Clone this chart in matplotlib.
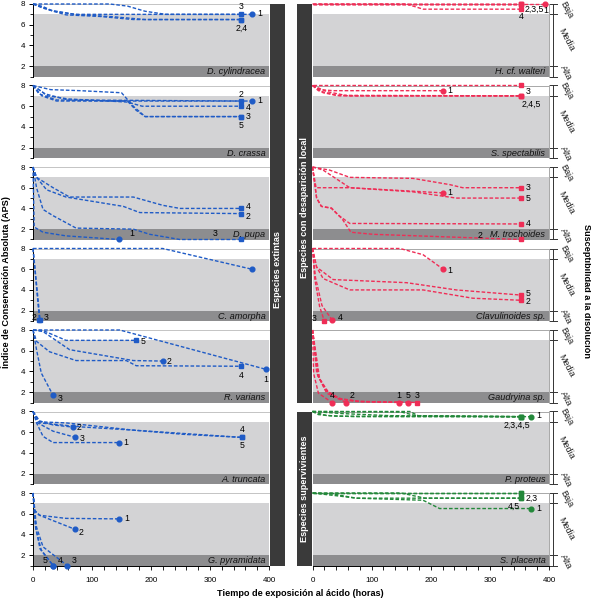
import matplotlib.pyplot as plt
from matplotlib.patches import Rectangle
from matplotlib.ticker import MultipleLocator
from matplotlib.transforms import blended_transform_factory

plt.rcParams['font.family'] = ['Liberation Sans', 'DejaVu Sans']

# ---------------- data: (hours, APS) per specimen ----------------
# extinct species
dcyl = {
    '1': ([0, 130, 160, 190, 225, 372], [8, 8, 7.8, 7.3, 7.0, 7.0]),
    '3': ([0, 17, 34, 73, 353], [8, 7.75, 7.3, 7.0, 7.0]),
    '2': ([0, 17, 56, 113, 170, 353], [8, 7.6, 6.95, 6.8, 6.5, 6.5]),
    '4': ([0, 30, 70, 140, 190, 353], [8, 7.4, 7.0, 6.75, 6.5, 6.5]),
}
dcyl_mk = {'1': 'o', '2': 's', '3': 's', '4': 's'}

dcra = {
    '1': ([0, 15, 40, 372], [8, 7.0, 6.5, 6.5]),
    '2': ([0, 20, 60, 353], [8, 7.2, 6.6, 6.5]),
    '3': ([0, 30, 80, 150, 170, 190, 353], [8, 7.6, 7.5, 7.3, 6.0, 5.0, 5.0]),
    '4': ([0, 25, 60, 160, 185, 353], [8, 7.0, 6.7, 6.4, 6.0, 6.0]),
    '5': ([0, 10, 40, 160, 175, 190, 353], [8, 7.2, 6.6, 6.5, 5.6, 5.0, 5.0]),
}
dcra_mk = {'1': 'o', '2': 's', '3': 's', '4': 's', '5': 's'}

dpup = {
    '1': ([0, 2, 17, 56, 146], [8, 2.2, 1.7, 1.35, 1.0]),
    '2': ([0, 6, 23, 56, 153, 181, 353], [8, 7.0, 5.8, 5.1, 4.2, 3.6, 3.5]),
    '3': ([0, 6, 17, 34, 73, 170, 198, 249, 353], [8, 6.0, 3.9, 3.3, 2.1, 2.0, 1.5, 1.0, 1.0]),
    '4': ([0, 6, 34, 62, 170, 220, 249, 353], [8, 7.0, 6.0, 5.1, 5.1, 4.3, 4.0, 4.0]),
}
dpup_mk = {'1': 'o', '2': 's', '3': 's', '4': 's'}

camo = {
    '1': ([0, 220, 371], [8, 8, 6.0]),
    '2': ([0, 11], [8, 1.1]),
    '3': ([0, 12], [8, 1.1]),
}
camo_mk = {'1': 'o', '2': 's', '3': 's'}

rvar = {
    '1': ([0, 147, 395], [8, 8, 4.2]),
    '2': ([0, 17, 62, 170, 220], [8, 7.85, 6.1, 5.05, 5.0]),
    '3': ([0, 6, 14, 34], [8, 6.1, 3.85, 1.7]),
    '4': ([0, 6, 28, 73, 158, 175, 353], [8, 6.9, 5.9, 5.05, 5.05, 4.55, 4.5]),
    '5': ([0, 17, 56, 175], [8, 7.95, 7.0, 7.0]),
}
rvar_mk = {'1': 'o', '2': 'o', '3': 'o', '4': 's', '5': 's'}

atru = {
    '1': ([0, 6, 17, 34, 146], [8, 6.9, 5.6, 5.0, 5.0]),
    '2': ([0, 11, 34, 67], [8, 7.1, 6.7, 6.5]),
    '3': ([0, 8, 34, 72], [8, 6.9, 6.1, 5.5]),
    '4': ([0, 11, 56, 170, 354], [8, 7.0, 6.9, 6.2, 5.5]),
    '5': ([0, 11, 85, 170, 254, 354], [8, 6.9, 6.5, 6.2, 5.8, 5.5]),
}
atru_mk = {'1': 'o', '2': 'o', '3': 'o', '4': 's', '5': 's'}

gpyr = {
    '1': ([0, 3, 11, 56, 146], [8, 6.3, 5.85, 5.55, 5.5]),
    '2': ([0, 3, 11, 71], [8, 6.3, 5.85, 4.5]),
    '3': ([0, 6, 17, 58], [8, 4.7, 2.8, 1.0]),
    '4': ([0, 5, 14, 34], [8, 4.5, 2.5, 1.0]),
    '5': ([0, 4, 12, 34], [8, 4.8, 2.6, 1.0]),
}
gpyr_mk = {'1': 'o', '2': 'o', '3': 'o', '4': 'o', '5': 'o'}

# local disappearance
hwal = {
    '1': ([0, 394], [8, 8]),
    '2': ([0, 353], [8, 8]),
    '3': ([0, 353], [8, 8]),
    '5': ([0, 353], [8, 8]),
    '4': ([0, 159, 187, 353], [8, 8, 7.5, 7.5]),
}
hwal_mk = {'1': 'o', '2': 's', '3': 's', '4': 's', '5': 's'}

sspe = {
    '1': ([0, 12, 35, 221], [8, 7.6, 7.5, 7.5]),
    '2': ([0, 18, 46, 353], [8, 7.3, 7.0, 7.0]),
    '3': ([0, 353], [8, 8]),
    '4': ([0, 10, 40, 353], [8, 7.5, 7.05, 7.0]),
    '5': ([0, 25, 60, 353], [8, 7.4, 7.0, 7.0]),
}
sspe_mk = {'1': 'o', '2': 's', '3': 's', '4': 's', '5': 's'}

mtro = {
    '1': ([0, 6, 63, 221], [8, 6.0, 6.0, 5.5]),
    '2': ([0, 7, 15, 32, 50, 65, 103, 353], [8, 5.0, 4.2, 4.0, 3.0, 1.7, 1.5, 1.0]),
    '3': ([0, 29, 63, 170, 232, 254, 353], [8, 7.7, 7.0, 6.9, 6.3, 6.0, 6.0]),
    '4': ([0, 7, 15, 32, 45, 63, 353], [8, 5.0, 4.2, 4.05, 3.3, 2.55, 2.5]),
    '5': ([0, 18, 63, 170, 243, 353], [8, 7.7, 6.0, 5.6, 5.0, 5.0]),
}
mtro_mk = {'1': 'o', '2': 's', '3': 's', '4': 's', '5': 's'}

clav = {
    '1': ([0, 148, 187, 221], [8, 8, 7.4, 6.0]),
    '2': ([0, 7, 18, 63, 187, 271, 353], [8, 6.2, 5.1, 4.0, 4.0, 3.2, 3.0]),
    '3': ([0, 4, 12, 20], [8, 5.0, 2.4, 1.0]),
    '4': ([0, 5, 16, 33], [8, 5.2, 2.5, 1.1]),
    '5': ([0, 7, 35, 159, 243, 353], [8, 6.2, 5.0, 4.7, 4.0, 3.5]),
}
clav_mk = {'1': 'o', '2': 's', '3': 's', '4': 'o', '5': 's'}

gaud = {
    '1': ([0, 10, 24, 46, 74, 146], [8, 3.5, 2.1, 1.35, 1.1, 1.0]),
    '2': ([0, 7, 24, 57], [8, 3.85, 1.9, 1.0]),
    '3': ([0, 12, 28, 50, 80, 177], [8, 3.3, 1.9, 1.3, 1.1, 1.0]),
    '4': ([0, 2, 10, 33], [8, 3.8, 1.9, 1.0]),
    '5': ([0, 9, 22, 45, 80, 162], [8, 3.6, 2.2, 1.4, 1.1, 1.0]),
}
gaud_mk = {'1': 'o', '2': 'o', '3': 's', '4': 'o', '5': 'o'}

# survivors
ppro = {
    '1': ([0, 165, 180, 370], [8, 8, 7.55, 7.5]),
    '2': ([0, 24, 74, 353], [8, 7.6, 7.5, 7.5]),
    '3': ([0, 10, 40, 353], [8, 7.7, 7.55, 7.5]),
    '4': ([0, 50, 130, 353], [8, 7.8, 7.6, 7.5]),
    '5': ([0, 150, 175, 353], [8, 7.95, 7.6, 7.5]),
}
ppro_mk = {'1': 'o', '2': 's', '3': 's', '4': 's', '5': 's'}

spla = {
    '1': ([0, 35, 74, 187, 215, 370], [8, 7.9, 7.5, 7.3, 6.5, 6.5]),
    '2': ([0, 353], [8, 8]),
    '3': ([0, 353], [8, 8]),
    '4': ([0, 46, 74, 353], [8, 7.7, 7.5, 7.5]),
    '5': ([0, 150, 190, 353], [8, 8.0, 7.5, 7.5]),
}
spla_mk = {'1': 'o', '2': 's', '3': 's', '4': 's', '5': 's'}

xticks = [0, 100, 200, 300, 400]
yticks = [2, 4, 6, 8]

# ---------------- layout ----------------
BLUE = '#1f5bc6'
RED = '#ef2d56'
GREEN = '#23883a'
MEDIA = '#d3d3d5'
ALTA = '#8d8d8f'
BAR = '#3a3a3a'

W, H = 591, 600
fig = plt.figure(figsize=(W / 100, H / 100), dpi=100)


def add_px_axes(x0, x1, top, bottom):
    return fig.add_axes([x0 / W, 1 - bottom / H, (x1 - x0) / W, (bottom - top) / H])


def draw(ax, data, mk, color, name, labels, side, last):
    ax.set_xlim(0, 400)
    ax.set_ylim(1, 8)
    ax.axhspan(2, 7, color=MEDIA, lw=0, zorder=0)
    ax.axhspan(1, 2, color=ALTA, lw=0, zorder=0)
    for key, (t, v) in data.items():
        ax.plot(t, v, ls=(0, (2.6, 1.4)), lw=1.0, color=color, clip_on=False, zorder=3)
        ax.plot(t[-1], v[-1], marker=mk[key], ms=3.4, color=color, ls='none',
                clip_on=False, zorder=4)
    for txt, key, dx, dy, ha in labels:
        t, v = data[key]
        ax.annotate(txt, (t[-1], v[-1]), xytext=(dx, dy), textcoords='offset points',
                    ha=ha, va='center', fontsize=6.3, annotation_clip=False, zorder=5)
    tr = blended_transform_factory(ax.transAxes, ax.transData)
    ax.text(0.985, 1.48, name, transform=tr, ha='right', va='center',
            style='italic', fontsize=6.6, color='#111111')

    for s in ax.spines.values():
        s.set_linewidth(0.7)
    if side == 'left':
        ax.spines['right'].set_visible(False)
        ax.spines['top'].set_color('#c4c4c4')
        ax.spines['left'].set_color('black')
        ax.set_yticks(yticks)
        ax.yaxis.set_minor_locator(MultipleLocator(1))
        ax.tick_params(axis='y', which='major', length=3, width=0.7, pad=2.5, labelsize=5.8)
        ax.tick_params(axis='y', which='minor', length=2.2, width=0.6)
    else:
        ax.spines['left'].set_visible(False)
        for s in ('top', 'right'):
            ax.spines[s].set_color('#a8a8a8')
        ax.tick_params(axis='y', which='both', left=False, labelleft=False)
        # susceptibility bracket
        tr2 = blended_transform_factory(ax.transAxes, ax.transData)
        ax.plot([1.018, 1.018], [1, 8], color='#333333', lw=0.7, transform=tr2, clip_on=False)
        for yv in (8, 7, 2, 1):
            ax.plot([1.004, 1.032], [yv, yv], color='#333333', lw=0.7,
                    transform=tr2, clip_on=False)
        for txt, yv in (('Baja', 7.45), ('Media', 4.5), ('Alta', 1.4)):
            ax.text(1.072, yv, txt, transform=tr2, rotation=-62, ha='center',
                    va='center', fontsize=6.5, color='#222222')
    if last:
        ax.spines['bottom'].set_color('black')
        ax.set_xticks(xticks)
        ax.xaxis.set_minor_locator(MultipleLocator(20))
        ax.tick_params(axis='x', which='both', length=3.2, width=0.6, pad=5, labelsize=5.8)
    else:
        ax.spines['bottom'].set_visible(False)
        ax.tick_params(axis='x', which='both', bottom=False, labelbottom=False)


left = [
    ('D. cylindracea', dcyl, dcyl_mk,
     [('3', '3', 0, 5.5, 'center'), ('1', '1', 3.5, 0.5, 'left'), ('2,4', '2', 0, -6, 'center')]),
    ('D. crassa', dcra, dcra_mk,
     [('2', '2', 0, 5, 'center'), ('1', '1', 3.5, 0.5, 'left'), ('4', '4', 3, -1, 'left'),
      ('3', '3', 3, 0, 'left'), ('5', '5', 0, -6.5, 'center')]),
    ('D. pupa', dpup, dpup_mk,
     [('4', '4', 3, 1.5, 'left'), ('2', '2', 3, -2, 'left'), ('3', '3', -19, 4.5, 'center'),
      ('1', '1', 9, 4.5, 'center')]),
    ('C. amorpha', camo, camo_mk,
     [('2', '2', -4, 2, 'center'), ('3', '3', 4.5, 2, 'center')]),
    ('R. varians', rvar, rvar_mk,
     [('5', '5', 3, -1, 'left'), ('2', '2', 3, 0, 'left'), ('4', '4', 0, -6.5, 'center'),
      ('1', '1', 0, -7.5, 'center'), ('3', '3', 3, -2.5, 'left')]),
    ('A. truncata', atru, atru_mk,
     [('2', '2', 3, 0, 'left'), ('3', '3', 3, -1, 'left'), ('1', '1', 3, 0, 'left'),
      ('4', '4', 0, 5.5, 'center'), ('5', '5', 0, -6, 'center')]),
    ('G. pyramidata', gpyr, gpyr_mk,
     [('1', '1', 3.5, 0, 'left'), ('2', '2', 3, -2.5, 'left'), ('3', '3', 3.5, 3.5, 'left'),
      ('4', '4', 3.5, 3.5, 'left'), ('5', '5', -6, 3.5, 'center')]),
]

right = [
    ('H. cf. walteri', hwal, hwal_mk, RED,
     [('2,3,5', '2', 2.5, -3.5, 'left'), ('1', '1', 0, -5, 'center'), ('4', '4', 0, -5.5, 'center')]),
    ('S. spectabilis', sspe, sspe_mk, RED,
     [('3', '3', 3, -4, 'left'), ('1', '1', 3, 0, 'left'), ('2,4,5', '2', 0, -6, 'left')]),
    ('M. trochoides', mtro, mtro_mk, RED,
     [('3', '3', 3, 0, 'left'), ('1', '1', 3, 0, 'left'), ('5', '5', 3, 0, 'left'),
      ('4', '4', 3, 0, 'left'), ('2', '2', -30, 3, 'center')]),
    ('Clavulinoides sp.', clav, clav_mk, RED,
     [('1', '1', 3, -1, 'left'), ('5', '5', 3, 1, 'left'), ('2', '2', 3, -1, 'left'),
      ('3', '3', -7, 2, 'center'), ('4', '4', 4, 2, 'left')]),
    ('Gaudryina sp.', gaud, gaud_mk, RED,
     [('4', '4', 0, 5, 'center'), ('2', '2', 4, 5, 'center'), ('1', '1', 0, 5, 'center'),
      ('5', '5', 0, 5, 'center'), ('3', '3', 0, 5, 'center')]),
    ('P. proteus', ppro, ppro_mk, GREEN,
     [('1', '1', 3.5, 0.5, 'left'), ('2,3,4,5', '2', -3, -6, 'center')]),
    ('S. placenta', spla, spla_mk, GREEN,
     [('2,3', '4', 3, 0, 'left'), ('4,5', '4', -5, -6, 'center'), ('1', '1', 3.5, 0, 'left')]),
]

tops = [4 + i * 81.5 for i in range(7)]
ph = 72.5

for i, (name, data, mk, labels) in enumerate(left):
    ax = add_px_axes(33, 269, tops[i], tops[i] + ph)
    draw(ax, data, mk, BLUE, name, labels, 'left', i == 6)

for i, (name, data, mk, color, labels) in enumerate(right):
    ax = add_px_axes(312.5, 549, tops[i], tops[i] + ph)
    draw(ax, data, mk, color, name, labels, 'right', i == 6)

# group bars
bars = [
    (270, 284.5, tops[0], tops[6] + ph, 270, 'Especies extintas'),
    (297, 312.5, tops[0], tops[4] + ph, 207, 'Especies con desaparición local'),
    (297, 312.5, tops[5], tops[6] + ph, 489, 'Especies supervivientes'),
]
for x0, x1, y0, y1, yc, txt in bars:
    fig.add_artist(Rectangle((x0 / W, 1 - y1 / H), (x1 - x0) / W, (y1 - y0) / H,
                             transform=fig.transFigure, color=BAR, lw=0))
    fig.text((x0 + x1) / 2 / W, 1 - yc / H, txt, rotation=90, ha='center', va='center',
             color='white', fontsize=6.6, fontweight='bold')

fig.text(6 / W, 1 - 282 / H, 'Índice de Conservación Absoluta (APS)', rotation=90,
         ha='center', va='center', fontsize=6.6, fontweight='bold')
fig.text(300 / W, 1 - 594 / H, 'Tiempo de exposición al ácido (horas)',
         ha='center', va='center', fontsize=6.6, fontweight='bold')
fig.text(586 / W, 1 - 291 / H, 'Susceptibilidad a la disolución', rotation=-90,
         ha='center', va='center', fontsize=6.6, fontweight='bold')

fig.savefig('out.png', dpi=100)
